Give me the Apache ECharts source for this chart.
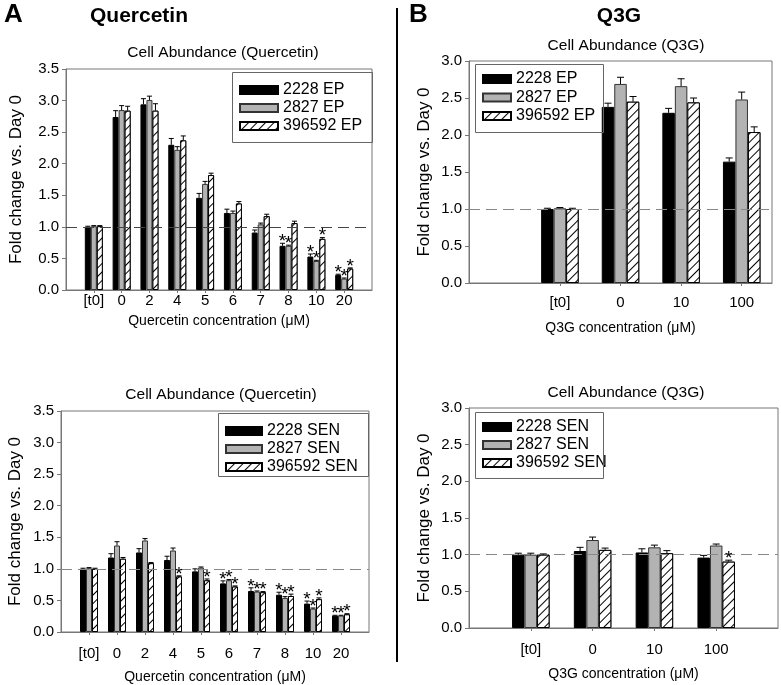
<!DOCTYPE html>
<html>
<head>
<meta charset="utf-8">
<script src="https://cdn.jsdelivr.net/npm/echarts@6/dist/echarts.min.js"></script>
<style>
html,body{margin:0;padding:0;background:#fff;}
#c{width:781px;height:685px;}
</style>
</head>
<body>
<div id="c"></div>
<script>
// ---------- DATA ----------
// Panel A: Quercetin (category slots; empty strings are padding slots)
const qCats = ['', '[t0]', '0', '2', '4', '5', '6', '7', '8', '10', '20', ''];
// Top-left: EP cells
const qEP2228   = [null, 1.00, 2.74, 2.94, 2.30, 1.46, 1.22, 0.91, 0.70, 0.53, 0.24, null];
const qEP2228e  = [null, 0.01, 0.10, 0.09, 0.10, 0.07, 0.06, 0.04, 0.04, 0.04, 0.01, null];
const qEP2827   = [null, 1.01, 2.85, 3.01, 2.22, 1.68, 1.22, 1.04, 0.70, 0.46, 0.18, null];
const qEP2827e  = [null, 0.01, 0.07, 0.06, 0.05, 0.04, 0.03, 0.02, 0.01, 0.01, 0.01, null];
const qEP3965   = [null, 1.01, 2.84, 2.84, 2.37, 1.82, 1.37, 1.17, 1.06, 0.81, 0.34, null];
const qEP3965e  = [null, 0.01, 0.07, 0.11, 0.07, 0.03, 0.03, 0.03, 0.03, 0.02, 0.01, null];
const qEP2228s  = [0,0,0,0,0,0,0,0,1,1,1,0];
const qEP2827s  = [0,0,0,0,0,0,0,0,1,1,1,0];
const qEP3965s  = [0,0,0,0,0,0,0,0,0,1,1,0];
// Bottom-left: SEN cells
const qSEN2228  = [null, 1.00, 1.18, 1.26, 1.14, 0.96, 0.77, 0.65, 0.59, 0.45, 0.26, null];
const qSEN2228e = [null, 0.01, 0.06, 0.06, 0.06, 0.04, 0.04, 0.05, 0.04, 0.04, 0.005, null];
const qSEN2827  = [null, 1.01, 1.37, 1.45, 1.29, 1.02, 0.82, 0.64, 0.54, 0.37, 0.26, null];
const qSEN2827e = [null, 0.01, 0.06, 0.03, 0.04, 0.01, 0.01, 0.01, 0.02, 0.01, 0.005, null];
const qSEN3965  = [null, 1.00, 1.16, 1.09, 0.88, 0.82, 0.72, 0.63, 0.57, 0.52, 0.28, null];
const qSEN3965e = [null, 0.01, 0.02, 0.01, 0.01, 0.02, 0.01, 0.01, 0.03, 0.02, 0.01, null];
const qSEN2228s = [0,0,0,0,0,0,1,1,1,1,1,0];
const qSEN2827s = [0,0,0,0,0,0,1,1,1,1,1,0];
const qSEN3965s = [0,0,0,0,1,1,1,1,1,1,1,0];

// Panel B: Q3G
const gCatsTop = ['', '[t0]', '0', '10', '100'];
const gEP2228   = [null, 1.00, 2.38, 2.30, 1.64];
const gEP2228e  = [null, 0.01, 0.05, 0.06, 0.05];
const gEP2827   = [null, 1.01, 2.69, 2.66, 2.48];
const gEP2827e  = [null, 0.01, 0.09, 0.10, 0.10];
const gEP3965   = [null, 1.00, 2.45, 2.44, 2.04];
const gEP3965e  = [null, 0.01, 0.07, 0.06, 0.07];
const gEPs0     = [0,0,0,0,0];

const gCatsBot = ['', '[t0]', '0', '10', '100', ''];
const gSEN2228  = [null, 1.00, 1.05, 1.03, 0.96, null];
const gSEN2228e = [null, 0.02, 0.05, 0.05, 0.03, null];
const gSEN2827  = [null, 1.00, 1.20, 1.10, 1.125, null];
const gSEN2827e = [null, 0.02, 0.04, 0.03, 0.02, null];
const gSEN3965  = [null, 1.00, 1.065, 1.02, 0.905, null];
const gSEN3965e = [null, 0.01, 0.025, 0.035, 0.02, null];
const gSEN3965s = [0,0,0,0,1,0];
const gSENs0    = [0,0,0,0,0,0];

const yTitle = 'Fold change vs. Day 0';
// ---------- CHART ----------
const FONT = '"Liberation Sans", Arial, sans-serif';
const chart = echarts.init(document.getElementById('c'), null, {renderer: 'canvas'});

const hatch = {
  color: '#fff', borderColor: '#000', borderWidth: 1,
  decal: { symbol: 'rect', symbolSize: 1, dashArrayX: [1, 0], dashArrayY: [1, 5],
           rotation: -Math.PI / 4, color: '#000', backgroundColor: '#fff' }
};
const styles = [
  { color: '#000', borderColor: '#000', borderWidth: 1 },
  { color: '#b3b3b3', borderColor: '#333', borderWidth: 1 },
  hatch
];

const grids = [
  { left: 66,  top: 69,  width: 306, height: 221 },
  { left: 61,  top: 411, width: 308, height: 221 },
  { left: 469, top: 61,  width: 303, height: 222 },
  { left: 469, top: 408, width: 310, height: 220 }
];
const gridCfg = [
  { cats: qCats, gap: false, max: 3.5, xname: 'Quercetin concentration (\u03bcM)', lblM: 3, nameGap: 24, dash: '#444', bw: 6, cap: 5, yGap: 41 },
  { cats: qCats, gap: false, max: 3.5, xname: 'Quercetin concentration (\u03bcM)', lblM: 14, nameGap: 38, dash: '#888', bw: 6, cap: 5, yGap: 37 },
  { cats: gCatsTop, gap: true, max: 3.0, xname: 'Q3G concentration (\u03bcM)', lblM: 12, nameGap: 38, dash: '#888', bw: 12.5, cap: 7, yGap: 36 },
  { cats: gCatsBot, gap: false, max: 3.0, xname: 'Q3G concentration (\u03bcM)', lblM: 14, nameGap: 39, dash: '#888', bw: 12.5, cap: 7, yGap: 36 }
];

const xAxes = [], yAxes = [];
gridCfg.forEach((g, i) => {
  xAxes.push({
    gridIndex: i, type: 'category', data: g.cats, boundaryGap: g.gap,
    name: g.xname, nameLocation: 'middle', nameGap: g.nameGap,
    nameTextStyle: { fontFamily: FONT, fontSize: 14, color: '#000' },
    axisLine: { lineStyle: { color: '#777', width: 1 } },
    axisTick: { show: true, length: 3, alignWithLabel: true, interval: (idx, v) => v !== '', lineStyle: { color: '#777' } },
    axisLabel: { interval: 0, margin: g.lblM, fontFamily: FONT, fontSize: 15, color: '#000' },
    splitLine: { show: false }
  });
  yAxes.push({
    gridIndex: i, type: 'value', min: 0, max: g.max, interval: 0.5,
    name: yTitle, nameLocation: 'middle', nameGap: g.yGap,
    nameTextStyle: { fontFamily: FONT, fontSize: 17, color: '#000' },
    axisLine: { show: true, lineStyle: { color: '#777', width: 1 } },
    axisTick: { show: true, length: 4, lineStyle: { color: '#777' } },
    axisLabel: { fontFamily: FONT, fontSize: 15, color: '#000', margin: 7, formatter: v => v.toFixed(1) },
    splitLine: { show: false }
  });
});

const panels = [
  { g: 0, names: ['2228 EP', '2827 EP', '396592 EP'],
    vals: [qEP2228, qEP2827, qEP3965], errs: [qEP2228e, qEP2827e, qEP3965e], stars: [qEP2228s, qEP2827s, qEP3965s] },
  { g: 1, names: ['2228 SEN', '2827 SEN', '396592 SEN'],
    vals: [qSEN2228, qSEN2827, qSEN3965], errs: [qSEN2228e, qSEN2827e, qSEN3965e], stars: [qSEN2228s, qSEN2827s, qSEN3965s] },
  { g: 2, names: ['2228 EP', '2827 EP', '396592 EP'],
    vals: [gEP2228, gEP2827, gEP3965], errs: [gEP2228e, gEP2827e, gEP3965e], stars: [gEPs0, gEPs0, gEPs0] },
  { g: 3, names: ['2228 SEN', '2827 SEN', '396592 SEN'],
    vals: [gSEN2228, gSEN2827, gSEN3965], errs: [gSEN2228e, gSEN2827e, gSEN3965e], stars: [gSENs0, gSENs0, gSEN3965s] }
];

const series = [];
panels.forEach(p => {
  const cfg = gridCfg[p.g];
  p.names.forEach((nm, k) => {
    const s = {
      type: 'bar', name: nm, xAxisIndex: p.g, yAxisIndex: p.g,
      data: p.vals[k].map(v => v == null ? '-' : v),
      barWidth: cfg.bw, barGap: '0%', itemStyle: styles[k],
      emphasis: { disabled: true }, animation: false, z: 2
    };
    if (k === 0) {
      s.markLine = {
        silent: true, symbol: 'none', label: { show: false },
        lineStyle: { type: [11, 6], color: cfg.dash, width: 1 },
        data: [{ yAxis: 1 }]
      };
    }
    series.push(s);
    const data = [];
    p.vals[k].forEach((v, i) => { if (v != null) data.push([i, v, p.errs[k][i], p.stars[k][i]]); });
    series.push({
      type: 'custom', name: nm + ' err', xAxisIndex: p.g, yAxisIndex: p.g, z: 5,
      silent: true, animation: false, data: data,
      renderItem: (params, api) => {
        const i = api.value(0), v = api.value(1), e = api.value(2), st = api.value(3);
        const b = api.coord([i, v]);
        const t = api.coord([i, v + e]);
        const x = b[0] + (k - 1) * cfg.bw;
        const children = [
          { type: 'line', shape: { x1: x, y1: b[1], x2: x, y2: t[1] }, style: { stroke: '#000', lineWidth: 1 } },
          { type: 'line', shape: { x1: x - cfg.cap / 2, y1: t[1], x2: x + cfg.cap / 2, y2: t[1] }, style: { stroke: '#000', lineWidth: 1 } }
        ];
        if (st) {
          children.push({ type: 'text', x: x, y: t[1] + 8, style: { text: '*', fill: '#000', font: '19px ' + FONT, align: 'center', verticalAlign: 'bottom' } });
        }
        return { type: 'group', children: children };
      }
    });
  });
});

// legend placement: [left of swatch, top, swatch width, font size, item gap]
const legendPos = [
  [239, 82, 38, 16, 2],
  [225, 423, 36, 16, 2],
  [482, 71, 28, 16, 2.5],
  [482, 419, 28, 16, 2]
];
const legends = legendPos.map((l, i) => ({
  left: l[0], top: l[1], orient: 'vertical', data: panels[i].names.map(n => ({ name: n, icon: 'rect' })),
  itemWidth: l[2], itemHeight: 8, itemGap: l[4], selectedMode: false, padding: 0,
  textStyle: { fontFamily: FONT, fontSize: l[3], color: '#000', lineHeight: 16 }
}));
// legend frames [x, y, w, h]
const legendBoxes = [
  [232, 72, 140, 70],
  [218, 413, 150, 63],
  [475, 64, 128, 68],
  [475, 412, 128, 66]
];

function txt(x, y, s, font, align) {
  return { type: 'text', x: x, y: y, silent: true,
    style: { text: s, font: font, fill: '#000', align: align || 'center', verticalAlign: 'middle' } };
}

chart.setOption({
  animation: false,
  grid: grids.map(g => Object.assign({ show: true, borderColor: '#777', borderWidth: 1, backgroundColor: 'transparent' }, g)),
  xAxis: xAxes, yAxis: yAxes, legend: legends, series: series,
  graphic: [
    txt(4, 15, 'A', 'bold 26px ' + FONT, 'left'),
    txt(139, 16, 'Quercetin', 'bold 21px ' + FONT),
    txt(409, 15, 'B', 'bold 26px ' + FONT, 'left'),
    txt(619, 16, 'Q3G', 'bold 21px ' + FONT),
    txt(223, 53, 'Cell Abundance (Quercetin)', '15.5px ' + FONT),
    txt(626, 46, 'Cell Abundance (Q3G)', '15.5px ' + FONT),
    txt(221, 395, 'Cell Abundance (Quercetin)', '15.5px ' + FONT),
    txt(626, 393, 'Cell Abundance (Q3G)', '15.5px ' + FONT),
    { type: 'line', silent: true, shape: { x1: 397, y1: 8, x2: 397, y2: 662 }, style: { stroke: '#000', lineWidth: 2 } }
  ].concat(legendBoxes.map(b => ({ type: 'rect', silent: true, z: 10,
      shape: { x: b[0] + 0.5, y: b[1] + 0.5, width: b[2], height: b[3] },
      style: { fill: 'none', stroke: '#666', lineWidth: 1 } })))
});
</script>
</body>
</html>
